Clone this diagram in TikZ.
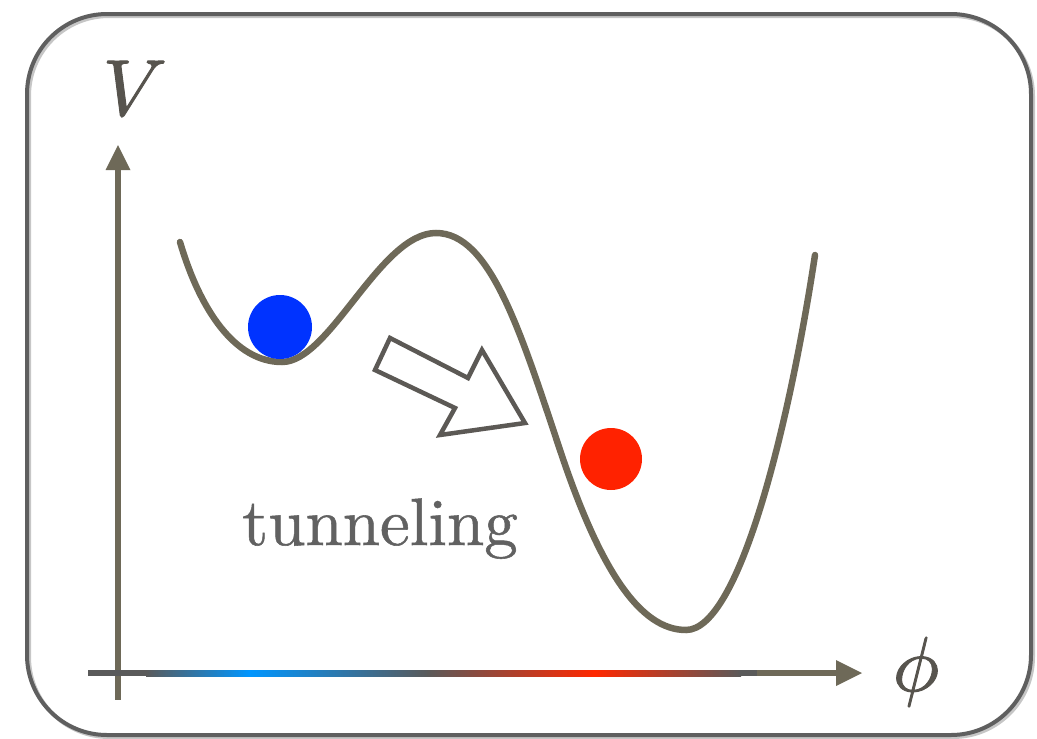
\documentclass[tikz,border=0pt]{standalone}
\usepackage{fontspec}
\newfontfamily\lmmath{Latin Modern Math}[FakeBold=1.2]
\newfontfamily\tunfont{lmroman10-regular}[Extension=.otf,FakeBold=0.8]
\begin{document}
\begin{tikzpicture}[x=1pt,y=-1pt,
  curvestyle/.style={draw=axisol,line width=6.5pt,line cap=round},
  hollowarrow/.style={draw=arrgray,line width=4.5pt,fill=white,line join=miter},
  ball/.style={circle,inner sep=0pt,minimum size=#1}]
\definecolor{axisol}{HTML}{6E6958}
\definecolor{framegray}{HTML}{5F5F5F}
\definecolor{arrgray}{HTML}{5C5955}
\definecolor{txtgray}{HTML}{616161}
\definecolor{lblgray}{HTML}{57544E}
\definecolor{bblue}{HTML}{0033FF}
\definecolor{rred}{HTML}{FF2200}
\definecolor{gblue}{HTML}{0096FF}
\definecolor{gred}{HTML}{FF2800}
\definecolor{ggray}{HTML}{5A5A5A}
\useasboundingbox (0,0) rectangle (1037,739);
% frame with slight shadow
\draw[gray!45,line width=4pt,rounded corners=80pt] (29,16) rectangle (1033,737);
\draw[framegray,line width=4pt,rounded corners=80pt] (27,14) rectangle (1031,735);
% vertical axis
\fill[axisol] (115,700) rectangle (121,168);
\fill[axisol] (105.5,170) -- (130.5,170) -- (118,145) -- cycle;
% horizontal axis gradient
\fill[ggray] (88,670) rectangle (147,676);
\shade[left color=ggray,right color=gblue] (146,670) rectangle (250,676);
\shade[left color=gblue,right color=ggray] (249,670) rectangle (428,676);
\shade[left color=ggray,right color=gred] (427,670) rectangle (595,676);
\shade[left color=gred,right color=ggray] (594,670) rectangle (741,676);
\fill[ggray] (740,670) rectangle (758,676);
\fill[axisol] (757,670) rectangle (838,676);
\fill[axisol] (836,660) -- (862,673) -- (836,686) -- cycle;
% potential curve
\draw[curvestyle] (180,242) .. controls (200,310) and (235,362) .. (282,362)
  .. controls (330,362) and (380,233) .. (436,233)
  .. controls (490,233) and (520,330) .. (560,450)
  .. controls (600,570) and (640,630) .. (686,630)
  .. controls (740,630) and (790,420) .. (815,255);
% balls
\node[ball=64pt,fill=bblue] (blue) at (280,327) {};
\node[ball=62pt,fill=rred] (red) at (611,459) {};
% hollow arrow
\draw[hollowarrow] (390,338) -- (468,378) -- (482,350) -- (525,423) -- (440,435) -- (455,408) -- (375,370) -- cycle;
% labels
\node[text=lblgray,inner sep=0pt] (V) at (126,89) {\lmmath\fontsize{80}{90}\selectfont 𝑉};
\node[text=lblgray,inner sep=0pt] (phi) at (916,672) {\lmmath\fontsize{78}{90}\selectfont 𝜙};
\node[text=txtgray,inner sep=0pt,anchor=base] (tun) at (380,545) {\tunfont\fontsize{67}{80}\selectfont tunneling};
\end{tikzpicture}
\end{document}
